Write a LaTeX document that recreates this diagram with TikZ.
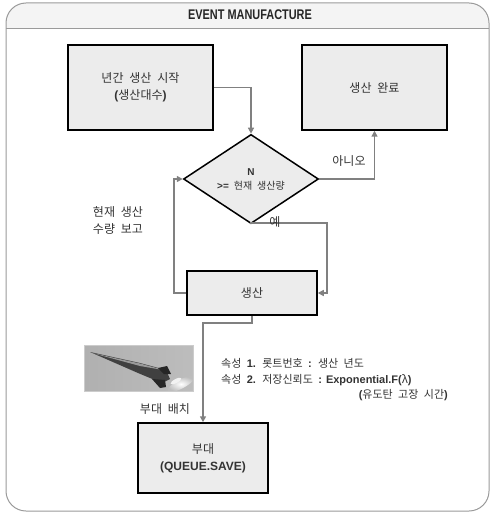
\documentclass[tikz,border=0pt]{standalone}
\usepackage{fontspec}
\usetikzlibrary{shapes.geometric,arrows.meta}
\setmainfont{Liberation Sans}
\newfontfamily\kr[WordSpace=2.2]{Noto Sans CJK KR}
\newfontfamily\hdfont[FakeStretch=0.78]{Liberation Sans}
\newcommand{\lb}[1]{{\rmfamily\bfseries #1}}
\definecolor{boxfill}{HTML}{ECECEC}
\definecolor{linkgray}{HTML}{808080}
\definecolor{framegray}{HTML}{9A9A9A}
\definecolor{headfill}{HTML}{F4F4F4}
\definecolor{txtgray}{HTML}{333333}

\begin{document}
\begin{tikzpicture}[x=1pt,y=-1pt,
  procbox/.style={draw=black,line width=1.5pt,fill=boxfill,text=txtgray,align=center,
    font=\kr\fontsize{12}{17}\selectfont},
  decision/.style={diamond,draw=black,line width=1.5pt,fill=boxfill,text=txtgray,align=center,
    inner sep=0pt,minimum width=135pt,minimum height=67pt,font=\kr\fontsize{10}{14}\selectfont},
  link/.style={draw=linkgray,line width=1.8pt,-{Triangle[length=6pt,width=6pt]}},
  lbl/.style={text=txtgray,font=\kr\fontsize{12}{17}\selectfont,inner sep=0pt}]
\useasboundingbox (0,0) rectangle (491,513);

% frame and title bar
\begin{scope}
\clip[rounded corners=20pt] (6,3) rectangle (489,511);
\fill[headfill] (6,3) rectangle (489,28);
\end{scope}
\draw[framegray,line width=0.8pt] (6,28) -- (489,28);
\draw[framegray,line width=1pt,rounded corners=20pt] (6,3) rectangle (489,511);
\node[font=\hdfont\bfseries\fontsize{14}{16}\selectfont,text=black!85] (title) at (250,15) {EVENT MANUFACTURE};

\node[procbox,minimum width=145pt,minimum height=85pt] (start) at (140.5,87.5) {년간 생산 시작\\\lb{(}생산대수\lb{)}};
\node[procbox,minimum width=145pt,minimum height=85pt] (done) at (374.5,87.5) {생산 완료};
\node[decision] (test) at (251,179) {\lb{N}\\\lb{>=} 현재 생산량};
\node[procbox,minimum width=130pt,minimum height=44pt] (make) at (252,293) {생산};
\node[procbox,minimum width=130pt,minimum height=70pt] (unit) at (203,458) {부대\\\lb{(QUEUE.SAVE)}};

\draw[link] (start.east) -| (test.north);
\draw[link] (test.east) -| (done.south);
\node[lbl] (nolbl) at (349,161) {아니오};

\coordinate (yes) at (327,223);
\draw[link] (test.south) |- (yes) |- (make.east);
\node[lbl] (yeslbl) at (275,222) {예};

\coordinate (back) at (174,179);
\draw[link] (make.west) -| (back) -- (test.west);
\node[lbl,align=left] (report) at (118,221) {현재 생산\\수량 보고};

\coordinate (drop) at (203,323);
\draw[link] (make.south) |- (drop) -- (unit.north);
\node[lbl] (place) at (165,409) {부대 배치};

% attributes of the unit
\node[lbl,anchor=west,font=\kr\fontsize{11}{13}\selectfont] (attr1) at (221,363) {속성 \lb{1.} 롯트번호 \lb{:} 생산 년도};
\node[lbl,anchor=west,font=\kr\fontsize{11}{13}\selectfont] (attr2) at (221,380) {속성 \lb{2.} 저장신뢰도 \lb{: Exponential.F(}λ\lb{)}};
\node[lbl,anchor=east,font=\kr\fontsize{11}{13}\selectfont] (attr3) at (448,395) {\lb{(}유도탄 고장 시간\lb{)}};

% missile photo
\begin{scope}
\clip (84,345) rectangle (193,391);
\shade[left color=gray!62,right color=gray!52] (84,345) rectangle (193,391);
\shade[inner color=white,outer color=gray!52,rotate around={28:(181,384)}] (181,384) ellipse (15pt and 4.5pt);
\fill[white!90!gray,rotate around={28:(176,381)}] (176,381) ellipse (6pt and 2pt);
\fill[black!75] (90,352) -- (140,363) -- (166,370) -- (170,379) -- (162,383) -- (138,373) -- cycle;
\fill[black!40] (92,353) -- (140,363.5) -- (166,370.5) -- (140,366) -- cycle;
\fill[black!85] (158,368) -- (167,366) -- (171,374) -- (164,374) -- cycle;
\fill[black!85] (152,379) -- (160,388) -- (166,387) -- (165,380) -- cycle;
\end{scope}
\draw[gray!40,line width=0.5pt] (84,345) rectangle (193,391);
\end{tikzpicture}
\end{document}
